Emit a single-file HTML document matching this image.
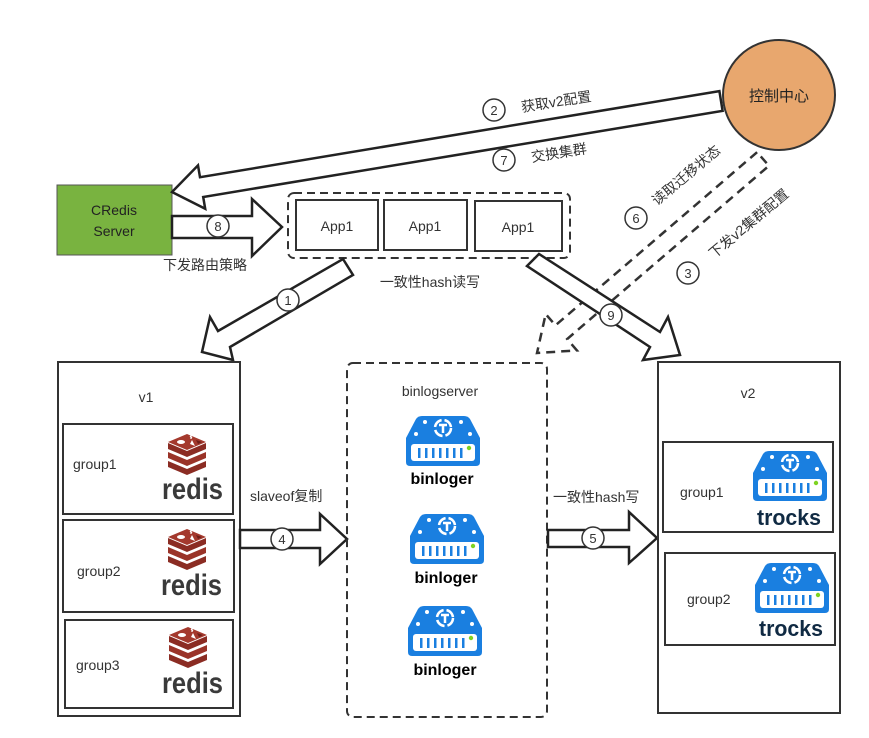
<!DOCTYPE html>
<html><head><meta charset="utf-8"><style>
html,body{margin:0;padding:0;background:#fff;}
svg{display:block;}
text{font-family:"Liberation Sans","Noto Sans CJK SC",sans-serif;}
</style></head><body>
<svg width="869" height="738" viewBox="0 0 869 738" xmlns="http://www.w3.org/2000/svg">
<defs>
<g id="ic">
  <path d="M16,0 L58,0 Q62,0 64,3 L74,22 L74,46 Q74,50 70,50 L4,50 Q0,50 0,46 L0,22 L10,3 Q12,0 16,0Z" fill="#1a7fe0"/>
  <rect x="5" y="28" width="64" height="17" rx="3" fill="#fff"/>
  <g fill="#1a7fe0"><rect x="12" y="32" width="2.5" height="10"/><rect x="19" y="32" width="2.5" height="10"/><rect x="26" y="32" width="2.5" height="10"/><rect x="33" y="32" width="2.5" height="10"/><rect x="40" y="32" width="2.5" height="10"/><rect x="47" y="32" width="2.5" height="10"/><rect x="54" y="32" width="2.5" height="10"/></g>
  <circle cx="63" cy="32" r="2.2" fill="#7ed321"/>
  <circle cx="37" cy="12" r="8" fill="none" stroke="#fff" stroke-width="2.5" stroke-dasharray="10 3"/>
  <path d="M33,9 L41,9 M37,9 L37,17" stroke="#fff" stroke-width="2.5"/>
  <circle cx="19" cy="6" r="2" fill="#fff"/><circle cx="55" cy="6" r="2" fill="#fff"/>
  <circle cx="10" cy="18" r="2" fill="#fff"/><circle cx="64" cy="18" r="2" fill="#fff"/>
</g>
<g id="rd">
  <path d="M0,28 L19,36 L38,28 L38,34 L19,42 L0,34Z" fill="#8b2c23"/>
  <path d="M0,19 L19,27 L38,19 L38,25 L19,33 L0,25Z" fill="#9a3328"/>
  <path d="M0,10 L19,18 L38,10 L38,16 L19,24 L0,16Z" fill="#8b2c23"/>
  <path d="M0,9 L19,1 L38,9 L19,17Z" fill="#a4392d"/>
  <ellipse cx="13" cy="9" rx="4" ry="2" fill="#fff"/>
  <path d="M22,11 L27,13 L24,7Z" fill="#fff"/>
  <path d="M22,3 L24,5 M23,2 L23,6" stroke="#fff" stroke-width="1.2"/>
  <path d="M28,7 L34,9 L30,11Z" fill="#6d1f18"/>
</g>
</defs>

<ellipse cx="779" cy="95" rx="56" ry="55" fill="#e8a76e" stroke="#333" stroke-width="2"/>
<text x="779" y="101" font-size="15" text-anchor="middle" fill="#222">控制中心</text>

<rect x="57" y="185" width="115" height="70" fill="#79b340" stroke="#555" stroke-width="1"/>
<text x="114" y="215" font-size="14" text-anchor="middle" fill="#222">CRedis</text>
<text x="114" y="236" font-size="14" text-anchor="middle" fill="#222">Server</text>

<polygon points="719.4,91.1 200,177.2 198,165.4 172,192 205.2,208.8 203.2,197 722.6,110.9" fill="#fff" stroke="#222" stroke-width="2.5"/>
<circle cx="494" cy="110" r="11" fill="#fff" stroke="#333" stroke-width="1.5"/><text x="494" y="115" font-size="13" text-anchor="middle" fill="#333">2</text>
<text x="522" y="112" font-size="14" fill="#333" transform="rotate(-9 522 112)">获取v2配置</text>
<circle cx="504" cy="160" r="11" fill="#fff" stroke="#333" stroke-width="1.5"/><text x="504" y="165" font-size="13" text-anchor="middle" fill="#333">7</text>
<text x="532" y="162" font-size="14" fill="#333" transform="rotate(-9 532 162)">交换集群</text>

<polygon points="172,216 252,216 252,199 282,227 252,256 252,238 172,238" fill="#fff" stroke="#222" stroke-width="2.5"/>
<circle cx="218" cy="226" r="11" fill="#fff" stroke="#333" stroke-width="1.5"/><text x="218" y="231" font-size="13" text-anchor="middle" fill="#333">8</text>
<text x="163" y="270" font-size="14" fill="#333">下发路由策略</text>

<rect x="288" y="193" width="282" height="65" rx="6" fill="none" stroke="#333" stroke-width="2" stroke-dasharray="8 5"/>
<rect x="296" y="200" width="82" height="50" fill="#fff" stroke="#333" stroke-width="2"/>
<rect x="384" y="200" width="83" height="50" fill="#fff" stroke="#333" stroke-width="2"/>
<rect x="475" y="201" width="87" height="50" fill="#fff" stroke="#333" stroke-width="2"/>
<text x="337" y="231" font-size="14" text-anchor="middle" fill="#333">App1</text>
<text x="425" y="231" font-size="14" text-anchor="middle" fill="#333">App1</text>
<text x="518" y="232" font-size="14" text-anchor="middle" fill="#333">App1</text>
<text x="430" y="287" font-size="14" text-anchor="middle" fill="#333">一致性hash读写</text>

<polygon points="343,259 353,275 230,347 233,360 202,352 210,317 218,331" fill="#fff" stroke="#222" stroke-width="2.5"/>
<circle cx="288" cy="300" r="11" fill="#fff" stroke="#333" stroke-width="1.5"/><text x="288" y="305" font-size="13" text-anchor="middle" fill="#333">1</text>

<polygon points="757.1,152.2 555.4,325.4 545.7,314 537,353 576.9,350.4 567.2,339 768.9,165.8" fill="#fff" stroke="#333" stroke-width="2.5" stroke-dasharray="9 6"/>
<circle cx="636" cy="218" r="11" fill="#fff" stroke="#333" stroke-width="1.5"/><text x="636" y="223" font-size="13" text-anchor="middle" fill="#333">6</text>
<text x="657" y="206" font-size="14" fill="#333" transform="rotate(-40 657 206)">读取迁移状态</text>
<circle cx="688" cy="273" r="11" fill="#fff" stroke="#333" stroke-width="1.5"/><text x="688" y="278" font-size="13" text-anchor="middle" fill="#333">3</text>
<text x="714" y="259" font-size="14" fill="#333" transform="rotate(-40 714 259)">下发v2集群配置</text>

<polygon points="527,266 539,254 660,332 668,317 680,355 643,360 650,347" fill="#fff" stroke="#222" stroke-width="2.5"/>
<circle cx="611" cy="315" r="11" fill="#fff" stroke="#333" stroke-width="1.5"/><text x="611" y="320" font-size="13" text-anchor="middle" fill="#333">9</text>

<rect x="58" y="362" width="182" height="354" fill="#fff" stroke="#333" stroke-width="2"/>
<text x="146" y="402" font-size="14" text-anchor="middle" fill="#333">v1</text>
<rect x="63" y="424" width="170" height="90" fill="#fff" stroke="#333" stroke-width="2"/>
<rect x="63" y="520" width="171" height="92" fill="#fff" stroke="#333" stroke-width="2"/>
<rect x="65" y="620" width="168" height="88" fill="#fff" stroke="#333" stroke-width="2"/>
<text x="73" y="469" font-size="14" fill="#333">group1</text>
<text x="77" y="576" font-size="14" fill="#333">group2</text>
<text x="76" y="670" font-size="14" fill="#333">group3</text>
<use href="#rd" x="168" y="433"/>
<use href="#rd" x="168" y="528"/>
<use href="#rd" x="169" y="626"/>
<text x="162" y="499" font-size="30" font-weight="bold" fill="#3a3a3a" textLength="61" lengthAdjust="spacingAndGlyphs">redis</text>
<text x="161" y="595" font-size="30" font-weight="bold" fill="#3a3a3a" textLength="61" lengthAdjust="spacingAndGlyphs">redis</text>
<text x="162" y="693" font-size="30" font-weight="bold" fill="#3a3a3a" textLength="61" lengthAdjust="spacingAndGlyphs">redis</text>

<polygon points="240,530 320,530 320,514 347,539 320,564 320,548 240,548" fill="#fff" stroke="#222" stroke-width="2.5"/>
<circle cx="282" cy="539" r="11" fill="#fff" stroke="#333" stroke-width="1.5"/><text x="282" y="544" font-size="13" text-anchor="middle" fill="#333">4</text>
<text x="250" y="501" font-size="14" fill="#333">slaveof复制</text>

<rect x="347" y="363" width="200" height="354" rx="6" fill="none" stroke="#333" stroke-width="2" stroke-dasharray="8 5"/>
<text x="440" y="396" font-size="14" text-anchor="middle" fill="#333">binlogserver</text>
<use href="#ic" x="406" y="416"/>
<use href="#ic" x="410" y="514"/>
<use href="#ic" x="408" y="606"/>
<text x="442" y="484" font-size="16" font-weight="bold" text-anchor="middle" fill="#000">binloger</text>
<text x="446" y="583" font-size="16" font-weight="bold" text-anchor="middle" fill="#000">binloger</text>
<text x="445" y="675" font-size="16" font-weight="bold" text-anchor="middle" fill="#000">binloger</text>

<polygon points="548,530 629,530 629,512 657,538 629,563 629,547 548,547" fill="#fff" stroke="#222" stroke-width="2.5"/>
<circle cx="593" cy="538" r="11" fill="#fff" stroke="#333" stroke-width="1.5"/><text x="593" y="543" font-size="13" text-anchor="middle" fill="#333">5</text>
<text x="553" y="502" font-size="14" fill="#333">一致性hash写</text>

<rect x="658" y="362" width="182" height="351" fill="#fff" stroke="#333" stroke-width="2"/>
<text x="748" y="398" font-size="14" text-anchor="middle" fill="#333">v2</text>
<rect x="663" y="442" width="170" height="90" fill="#fff" stroke="#333" stroke-width="2"/>
<rect x="665" y="553" width="170" height="92" fill="#fff" stroke="#333" stroke-width="2"/>
<text x="680" y="497" font-size="14" fill="#333">group1</text>
<text x="687" y="604" font-size="14" fill="#333">group2</text>
<use href="#ic" x="753" y="451"/>
<use href="#ic" x="755" y="563"/>
<text x="789" y="525" font-size="22" font-weight="bold" text-anchor="middle" fill="#102a43" textLength="64" lengthAdjust="spacingAndGlyphs">trocks</text>
<text x="791" y="636" font-size="22" font-weight="bold" text-anchor="middle" fill="#102a43" textLength="64" lengthAdjust="spacingAndGlyphs">trocks</text>
</svg>
</body></html>
